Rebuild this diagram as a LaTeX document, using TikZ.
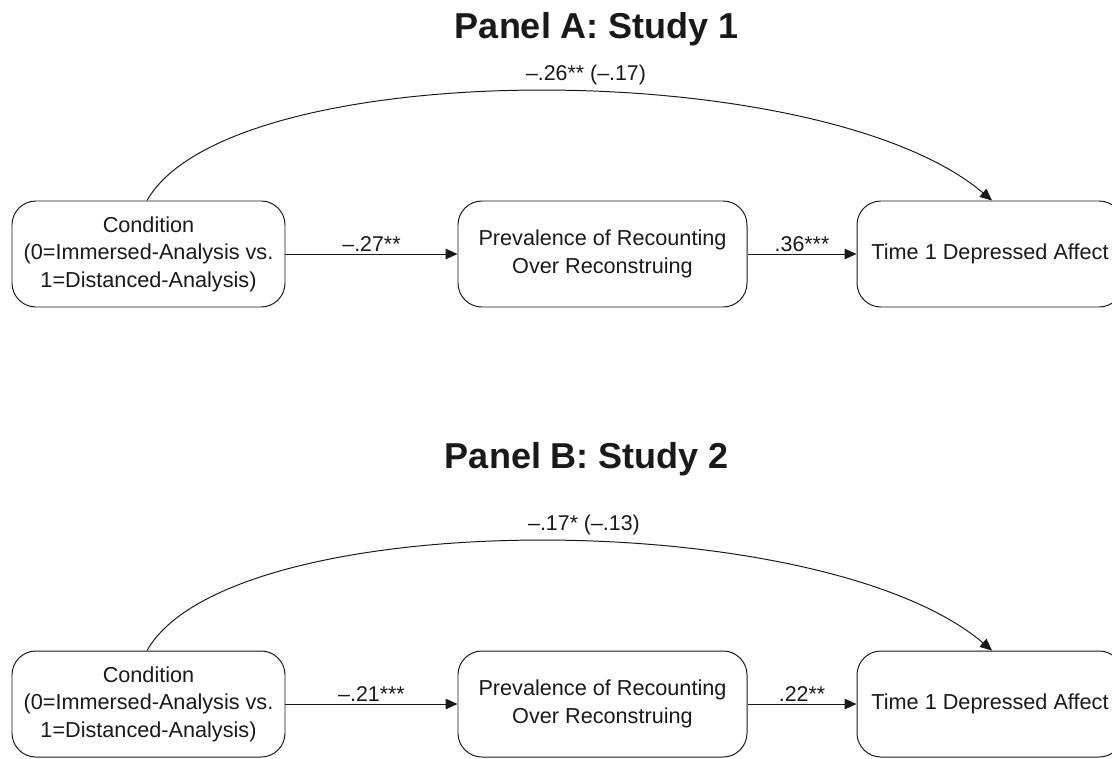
\documentclass[tikz,border=0pt]{standalone}
\usepackage{fontspec}
\setmainfont{Liberation Sans}
\usetikzlibrary{arrows.meta}
\begin{document}
\begin{tikzpicture}[
    x=0.025cm, y=-0.025cm,
    box/.style={rectangle, draw=black!90, line width=0.7pt, rounded corners=17pt, align=center, font=\fontsize{15.4}{19.5}\selectfont, text=black!90, minimum height=106*0.025cm, inner sep=0pt},
    link/.style={-{Triangle[length=8.5pt,width=7.5pt]}, line width=0.7pt, draw=black!90},
    coef/.style={font=\fontsize{15.2}{18}\selectfont, text=black!90, inner sep=1.5pt},
    paneltitle/.style={font=\fontsize{25.6}{30}\selectfont\bfseries, text=black!90, anchor=base},
]
\useasboundingbox (0,0) rectangle (1112,758);
% Panel A
\node[paneltitle] (titleA) at (597,38) {Panel A: Study 1};
\node[box, minimum width=273*0.025cm] (condA) at (148.5,254) {Condition\\(0=Immersed-Analysis vs.\\1=Distanced-Analysis)};
\node[box, minimum width=289*0.025cm] (prevA) at (602.5,254) {Prevalence of Recounting\\Over Reconstruing};
\node[box, minimum width=266*0.025cm] (affA) at (990,254) {Time 1 Depressed Affect};
\draw[link] (condA) -- node[coef, midway, above] {–.27**} (prevA);
\draw[link] (prevA) -- node[coef, midway, above] {.36***} (affA);
\draw[link] ([xshift=-1.5*0.025cm]condA.north) .. controls +(83,-146) and +(-172,-146) .. ([xshift=2*0.025cm]affA.north);
\node[coef, anchor=base] (totA) at (586,80) {–.26** (–.17)};
% Panel B
\node[paneltitle] (titleB) at (587,468) {Panel B: Study 2};
\node[box, minimum width=273*0.025cm] (condB) at (148.5,704) {Condition\\(0=Immersed-Analysis vs.\\1=Distanced-Analysis)};
\node[box, minimum width=289*0.025cm] (prevB) at (602.5,704) {Prevalence of Recounting\\Over Reconstruing};
\node[box, minimum width=266*0.025cm] (affB) at (990,704) {Time 1 Depressed Affect};
\draw[link] (condB) -- node[coef, midway, above] {–.21***} (prevB);
\draw[link] (prevB) -- node[coef, midway, above] {.22**} (affB);
\draw[link] ([xshift=-1.5*0.025cm]condB.north) .. controls +(83,-146) and +(-172,-146) .. ([xshift=2*0.025cm]affB.north);
\node[coef, anchor=base] (totB) at (584,530) {–.17* (–.13)};
\end{tikzpicture}
\end{document}
